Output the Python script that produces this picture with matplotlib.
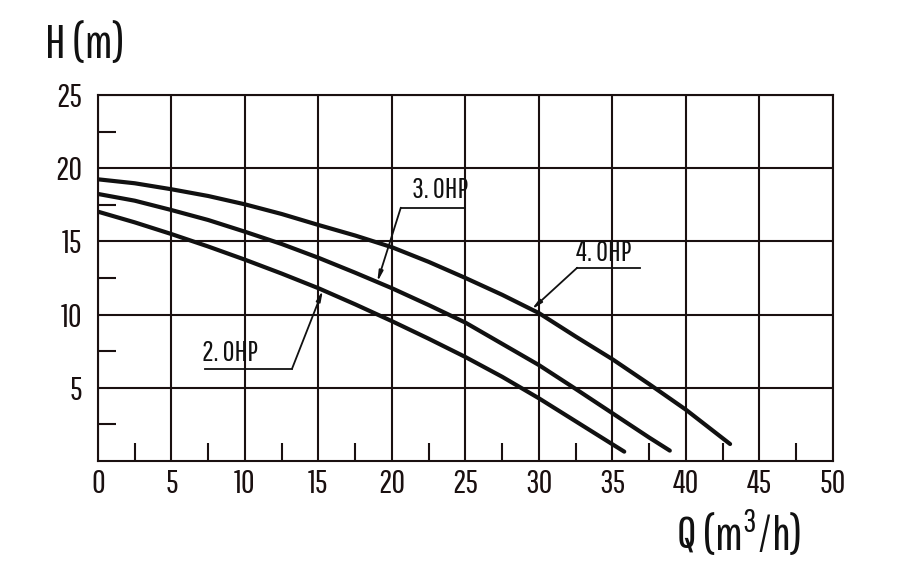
import numpy as np
import matplotlib.pyplot as plt

FONT = 'Pathway Gothic One'
plt.rcParams['font.family'] = [FONT, 'DejaVu Sans']
plt.rcParams['mathtext.fontset'] = 'custom'
plt.rcParams['mathtext.rm'] = FONT
plt.rcParams['mathtext.it'] = FONT

# pump curves (Q in m3/h, H in m)
q_4hp = [0, 2.5, 5, 7.5, 10, 12.5, 15, 17.5, 20, 22.5, 25, 27.5, 30, 32.5, 35, 37.5, 40, 42.5, 43]
h_4hp = [19.24, 18.97, 18.56, 18.1, 17.53, 16.87, 16.12, 15.4, 14.6, 13.6, 12.5, 11.35, 10.1,
         8.5, 6.95, 5.25, 3.5, 1.55, 1.16]
q_3hp = [0, 2.5, 5, 7.5, 10, 12.5, 15, 17.5, 20, 22.5, 25, 27.5, 30, 32.5, 35, 37.5, 38.9]
h_3hp = [18.24, 17.78, 17.14, 16.46, 15.66, 14.82, 13.88, 12.86, 11.8, 10.65, 9.45, 8.0, 6.55,
         4.92, 3.26, 1.6, 0.71]
q_2hp = [0, 2.5, 5, 7.5, 10, 12.5, 15, 17.5, 20, 22.5, 25, 27.5, 30, 32.5, 35, 35.8]
h_2hp = [17.03, 16.3, 15.5, 14.65, 13.75, 12.8, 11.8, 10.7, 9.55, 8.35, 7.1, 5.75, 4.28,
         2.71, 1.14, 0.64]

labels = ["2. 0HP", "3. 0HP", "4. 0HP"]
# label text position, underline span and height, arrow target Q
label_xy = [(9.0, 7.4), (23.3, 18.5), (34.4, 14.2)]
underline = [((7.3, 13.2), 6.3), ((20.6, 25.0), 17.3), ((32.6, 36.9), 13.2)]
arrow_q = [15.3, 19.0, 29.5]

fig = plt.figure(figsize=(8.98, 5.62), dpi=100)
ax = fig.add_axes([0.1091, 0.1797, 0.8185, 0.6513])

ax.set_xlim(0, 50)
ax.set_ylim(0, 25)
ax.set_xticks(np.arange(0, 51, 5))
ax.set_yticks(np.arange(5, 26, 5))
ax.set_xticks(np.arange(2.5, 50, 5), minor=True)
ax.set_yticks(np.arange(2.5, 25, 5), minor=True)
ax.grid(True, which='major', color='#1a1010', lw=1.5)
ax.tick_params(which='major', length=0, labelsize=24, colors='#1a1010')
ax.tick_params(axis='x', which='major', pad=6)
ax.tick_params(axis='y', which='major', pad=11)
ax.tick_params(which='minor', direction='in', length=13, width=1.5, color='#1a1010')
for s in ax.spines.values():
    s.set_linewidth(1.5)
    s.set_color('#1a1010')

curves = [(q_2hp, h_2hp), (q_3hp, h_3hp), (q_4hp, h_4hp)]
for q, h in curves:
    ax.plot(q, h, color='#111111', lw=3.0, solid_capstyle='round', solid_joinstyle='round')

for (q, h), lab, xy, (span, yl), aq in zip(curves, labels, label_xy, underline, arrow_q):
    ax.text(xy[0], xy[1], lab, ha='center', va='center', fontsize=21, color='#111111')
    ax.plot(span, [yl, yl], color='#111111', lw=1.3)
    start_x = span[1] if lab.startswith("2") else span[0]
    ah = np.interp(aq, q, h)
    ax.annotate("", xy=(aq, ah), xytext=(start_x, yl),
                arrowprops=dict(arrowstyle='-|>,head_length=0.6,head_width=0.12',
                                color='#111111', lw=1.3, shrinkA=0, shrinkB=0))

fig.text(0.05, 0.92, "H (m)", fontsize=34, ha='left', va='center', color='#111111')
fig.text(0.753, 0.05, "Q (m$^{3}$/h)", fontsize=34, ha='left', va='center', color='#111111')

fig.savefig("out.png", dpi=100)
